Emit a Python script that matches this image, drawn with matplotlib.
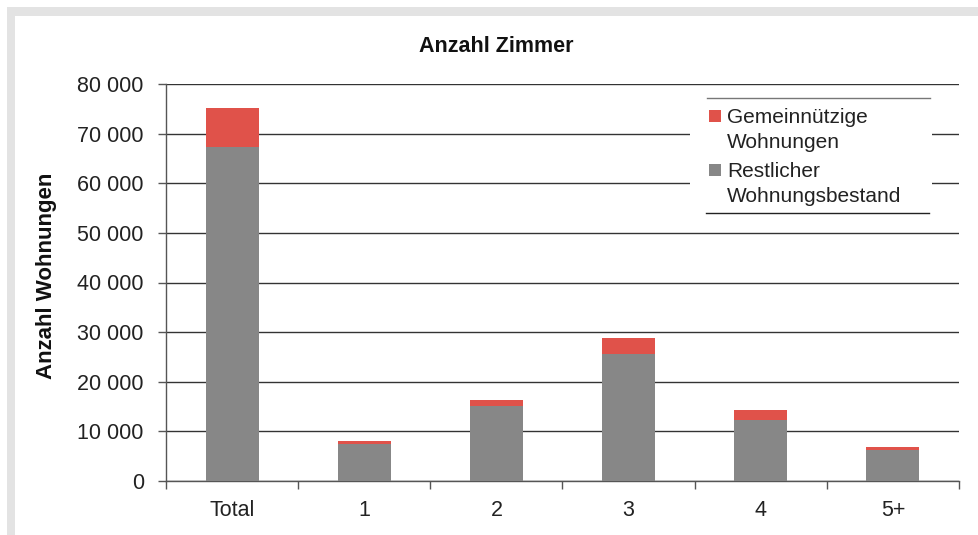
import matplotlib
matplotlib.use("Agg")
import matplotlib.pyplot as plt
from matplotlib.patches import Rectangle
from matplotlib.lines import Line2D
from matplotlib.ticker import FuncFormatter, FixedLocator
import numpy as np

categories = ["Total", "1", "2", "3", "4", "5+"]
restlicher = [67300, 7500, 15100, 25500, 12200, 6250]
gemeinn_total = [75100, 8060, 16300, 28800, 14300, 6850]
gemeinnuetzig = [t - r for t, r in zip(gemeinn_total, restlicher)]
series_names = ["Gemeinnützige\nWohnungen", "Restlicher\nWohnungsbestand"]
yticks = [0, 10000, 20000, 30000, 40000, 50000, 60000, 70000, 80000]

RED = "#e0524a"
GRAY = "#878787"

plt.rcParams['font.family'] = ['Liberation Sans', 'DejaVu Sans']

W, H = 979, 535
fig = plt.figure(figsize=(W / 100, H / 100), dpi=100)

def fx(px):
    return px / W

def fy(py):
    return 1 - py / H

# decorative frame
fig.patches.append(Rectangle((fx(7), fy(16)), 1, 9 / H, transform=fig.transFigure,
                             facecolor="#e3e3e3", edgecolor="none", zorder=0))
fig.patches.append(Rectangle((fx(7), 0), 8 / W, fy(16), transform=fig.transFigure,
                             facecolor="#e3e3e3", edgecolor="none", zorder=0))

ax = fig.add_axes([fx(166), fy(481), fx(959) - fx(166), fy(84) - fy(481)])
x = np.arange(len(categories))
ax.bar(x, restlicher, width=0.4, color=GRAY, zorder=3)
ax.bar(x, gemeinnuetzig, bottom=restlicher, width=0.4, color=RED, zorder=3)

ax.set_xlim(-0.5, len(categories) - 0.5)
ax.set_ylim(0, 80000)
ax.set_yticks(yticks)
ax.yaxis.set_major_formatter(FuncFormatter(lambda v, p: f"{int(v):,}".replace(",", " ")))
ax.set_xticks(x)
ax.set_xticklabels(categories)
ax.xaxis.set_minor_locator(FixedLocator(np.arange(-0.5, len(categories), 1.0)))
ax.tick_params(axis='x', which='major', length=0, pad=14, labelsize=15.5, colors='#222222')
ax.tick_params(axis='x', which='minor', length=6, width=1, color='#555555', direction='out')
ax.tick_params(axis='y', length=6, width=1, color='#555555', direction='out', pad=10,
               labelsize=15.5, labelcolor='#222222')

ax.grid(axis='y', color='#333333', linewidth=1, zorder=1)
for s in ['top', 'right']:
    ax.spines[s].set_visible(False)
ax.spines['left'].set_color('#555555')
ax.spines['bottom'].set_color('#555555')
ax.spines['left'].set_linewidth(1)
ax.spines['bottom'].set_linewidth(1)
ax.set_axisbelow(True)

fig.text(fx(496), fy(46), "Anzahl Zimmer", ha='center', va='center',
         fontsize=15.5, fontweight='bold', color='#111111')
fig.text(fx(47), fy(276), "Anzahl Wohnungen", ha='center', va='center', rotation=90,
         fontsize=16, fontweight='bold', color='#111111')

# legend (manual)
fig.patches.append(Rectangle((fx(690), fy(213)), fx(932) - fx(690), (213 - 98) / H,
                             transform=fig.transFigure, facecolor='white', edgecolor='none', zorder=2))
fig.add_artist(Line2D([fx(707), fx(930)], [fy(98), fy(98)], color='#777777', lw=1, zorder=3))
fig.add_artist(Line2D([fx(706), fx(929)], [fy(213), fy(213)], color='#222222', lw=1, zorder=3))
entries = [(series_names[0], RED, 116), (series_names[1], GRAY, 170)]
for label, col, yc in entries:
    fig.patches.append(Rectangle((fx(709), fy(yc + 6)), 12 / W, 12 / H, transform=fig.transFigure,
                                 facecolor=col, edgecolor='none', zorder=4))
    fig.text(fx(727), fy(yc - 8), label, ha='left', va='top', fontsize=15,
             linespacing=1.42, color='#222222', zorder=4)

fig.savefig("out.png", dpi=100)
